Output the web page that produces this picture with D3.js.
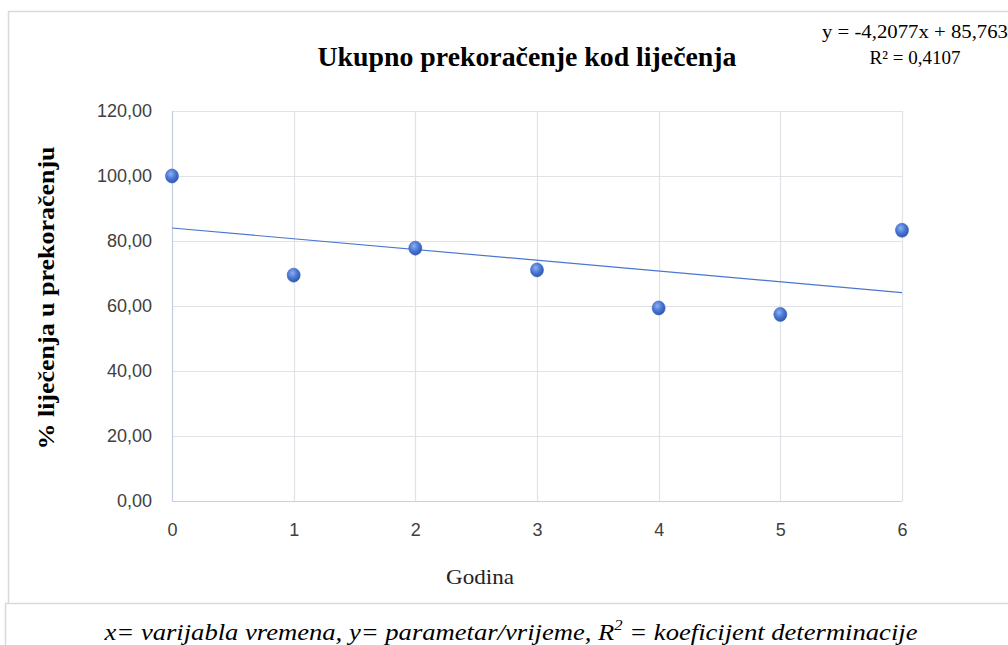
<!DOCTYPE html>
<html>
<head>
<meta charset="utf-8">
<script src="https://cdn.jsdelivr.net/npm/d3@7"></script>
<style>
    body { margin: 0; background: #fff; }
    svg { display: block; }
</style>
</head>
<body>
<script>
// data
const years = [0, 1, 2, 3, 4, 5, 6];
const percent = [100.0, 69.5, 77.8, 71.1, 59.4, 57.4, 83.3];
const yTicks = [0, 20, 40, 60, 80, 100, 120];
const xTicks = [0, 1, 2, 3, 4, 5, 6];
const equationText = 'y = -4,2077x + 85,763';
const r2Text = 'R² = 0,4107';

const width = 1008;
const height = 645;

const x = d3.scaleLinear().domain([0, 6]).range([172, 902]);
const y = d3.scaleLinear().domain([0, 120]).range([501, 111]);

const fmt = d => d3.format('.2f')(d).replace('.', ',');

const svg = d3
    .select('body')
    .append('svg')
    .attr('width', width)
    .attr('height', height);

// sphere-like marker fill
const defs = svg.append('defs');
const grad = defs.append('radialGradient')
    .attr('id', 'ball')
    .attr('cx', '40%').attr('cy', '35%').attr('r', '65%');
grad.append('stop').attr('offset', '0%').attr('stop-color', '#8fb0f0');
grad.append('stop').attr('offset', '55%').attr('stop-color', '#4a78d6');
grad.append('stop').attr('offset', '100%').attr('stop-color', '#2f58b0');

// frame lines
svg.append('path')
    .attr('d', `M5.5,${height} V603.5 H${width} M8.5,603 V11.5 H${width}`)
    .attr('fill', 'none')
    .attr('stroke', '#d6d9de')
    .attr('stroke-width', 1.5);

// grid
svg.append('g')
    .selectAll('line')
    .data(yTicks)
    .join('line')
    .attr('x1', x(0)).attr('x2', x(6))
    .attr('y1', d => Math.round(y(d)) + 0.5)
    .attr('y2', d => Math.round(y(d)) + 0.5)
    .attr('stroke', d => d === 0 ? '#c9d1e0' : '#dfe2e7')
    .attr('stroke-width', 1.2);

svg.append('g')
    .selectAll('line')
    .data(xTicks)
    .join('line')
    .attr('x1', d => Math.round(x(d)) + 0.5)
    .attr('x2', d => Math.round(x(d)) + 0.5)
    .attr('y1', y(120)).attr('y2', y(0))
    .attr('stroke', d => d === 0 ? '#c3cde0' : '#dfe2e7')
    .attr('stroke-width', 1.2);

// y axis labels
const yAxis = svg.append('g')
    .attr('transform', `translate(${x(0) - 20}, 0)`)
    .call(d3.axisLeft(y).tickValues(yTicks).tickFormat(fmt).tickSize(0).tickPadding(0));
yAxis.select('.domain').remove();
yAxis.selectAll('text')
    .attr('font-family', 'Liberation Sans, Arial, sans-serif')
    .attr('font-size', 18)
    .attr('fill', '#404040');

// x axis labels
const xAxis = svg.append('g')
    .attr('transform', `translate(0, ${y(0) + 22})`)
    .call(d3.axisBottom(x).tickValues(xTicks).tickFormat(d3.format('d')).tickSize(0).tickPadding(0));
xAxis.select('.domain').remove();
xAxis.selectAll('text')
    .attr('font-family', 'Liberation Sans, Arial, sans-serif')
    .attr('font-size', 18)
    .attr('fill', '#404040');

// linear trend (least squares)
const mx = d3.mean(years);
const my = d3.mean(percent);
const slope = d3.sum(years, (d, i) => (d - mx) * (percent[i] - my)) / d3.sum(years, d => (d - mx) ** 2);
const intercept = my - slope * mx;

svg.append('line')
    .attr('x1', x(0)).attr('y1', y(intercept))
    .attr('x2', x(6)).attr('y2', y(intercept + slope * 6))
    .attr('stroke', '#4a76cf')
    .attr('stroke-width', 1.2);

// points
svg.append('g')
    .selectAll('ellipse')
    .data(years)
    .join('ellipse')
    .attr('cx', d => x(d))
    .attr('cy', (d, i) => y(percent[i]))
    .attr('rx', 6.5)
    .attr('ry', 7)
    .attr('fill', 'url(#ball)')
    .attr('stroke', '#3a62b8')
    .attr('stroke-width', 0.6);

// title
svg.append('text')
    .attr('x', 527)
    .attr('y', 66)
    .attr('text-anchor', 'middle')
    .attr('font-family', 'Liberation Serif, Times New Roman, serif')
    .attr('font-weight', 'bold')
    .attr('font-size', 28)
    .attr('textLength', 419)
    .attr('lengthAdjust', 'spacingAndGlyphs')
    .attr('fill', '#000')
    .text('Ukupno prekoračenje kod liječenja');

// trend equation
svg.append('text')
    .attr('x', 915)
    .attr('y', 38)
    .attr('text-anchor', 'middle')
    .attr('font-family', 'Liberation Serif, Times New Roman, serif')
    .attr('font-size', 19)
    .attr('textLength', 186)
    .attr('lengthAdjust', 'spacingAndGlyphs')
    .text(equationText);

svg.append('text')
    .attr('x', 915)
    .attr('y', 64)
    .attr('text-anchor', 'middle')
    .attr('font-family', 'Liberation Serif, Times New Roman, serif')
    .attr('font-size', 19)
    .text(r2Text);

// axis titles
svg.append('text')
    .attr('transform', 'translate(54, 298) rotate(-90)')
    .attr('text-anchor', 'middle')
    .attr('font-family', 'Liberation Serif, Times New Roman, serif')
    .attr('font-weight', 'bold')
    .attr('font-size', 23)
    .attr('textLength', 303)
    .attr('lengthAdjust', 'spacingAndGlyphs')
    .text('% liječenja u prekoračenju');

svg.append('text')
    .attr('x', 480)
    .attr('y', 584)
    .attr('text-anchor', 'middle')
    .attr('font-family', 'Liberation Serif, Times New Roman, serif')
    .attr('font-size', 22)
    .attr('textLength', 68)
    .attr('lengthAdjust', 'spacingAndGlyphs')
    .attr('fill', '#222')
    .text('Godina');

// caption
const caption = svg.append('text')
    .attr('x', 511)
    .attr('y', 640)
    .attr('text-anchor', 'middle')
    .attr('font-family', 'Liberation Serif, Times New Roman, serif')
    .attr('font-style', 'italic')
    .attr('font-size', 24)
    .attr('textLength', 813)
    .attr('lengthAdjust', 'spacingAndGlyphs')
    .attr('fill', '#000');
caption.append('tspan').text('x= varijabla vremena, y= parametar/vrijeme, R');
caption.append('tspan').attr('dy', -10).attr('font-size', 15).text('2');
caption.append('tspan').attr('dy', 10).text(' = koeficijent determinacije');
</script>
</body>
</html>
